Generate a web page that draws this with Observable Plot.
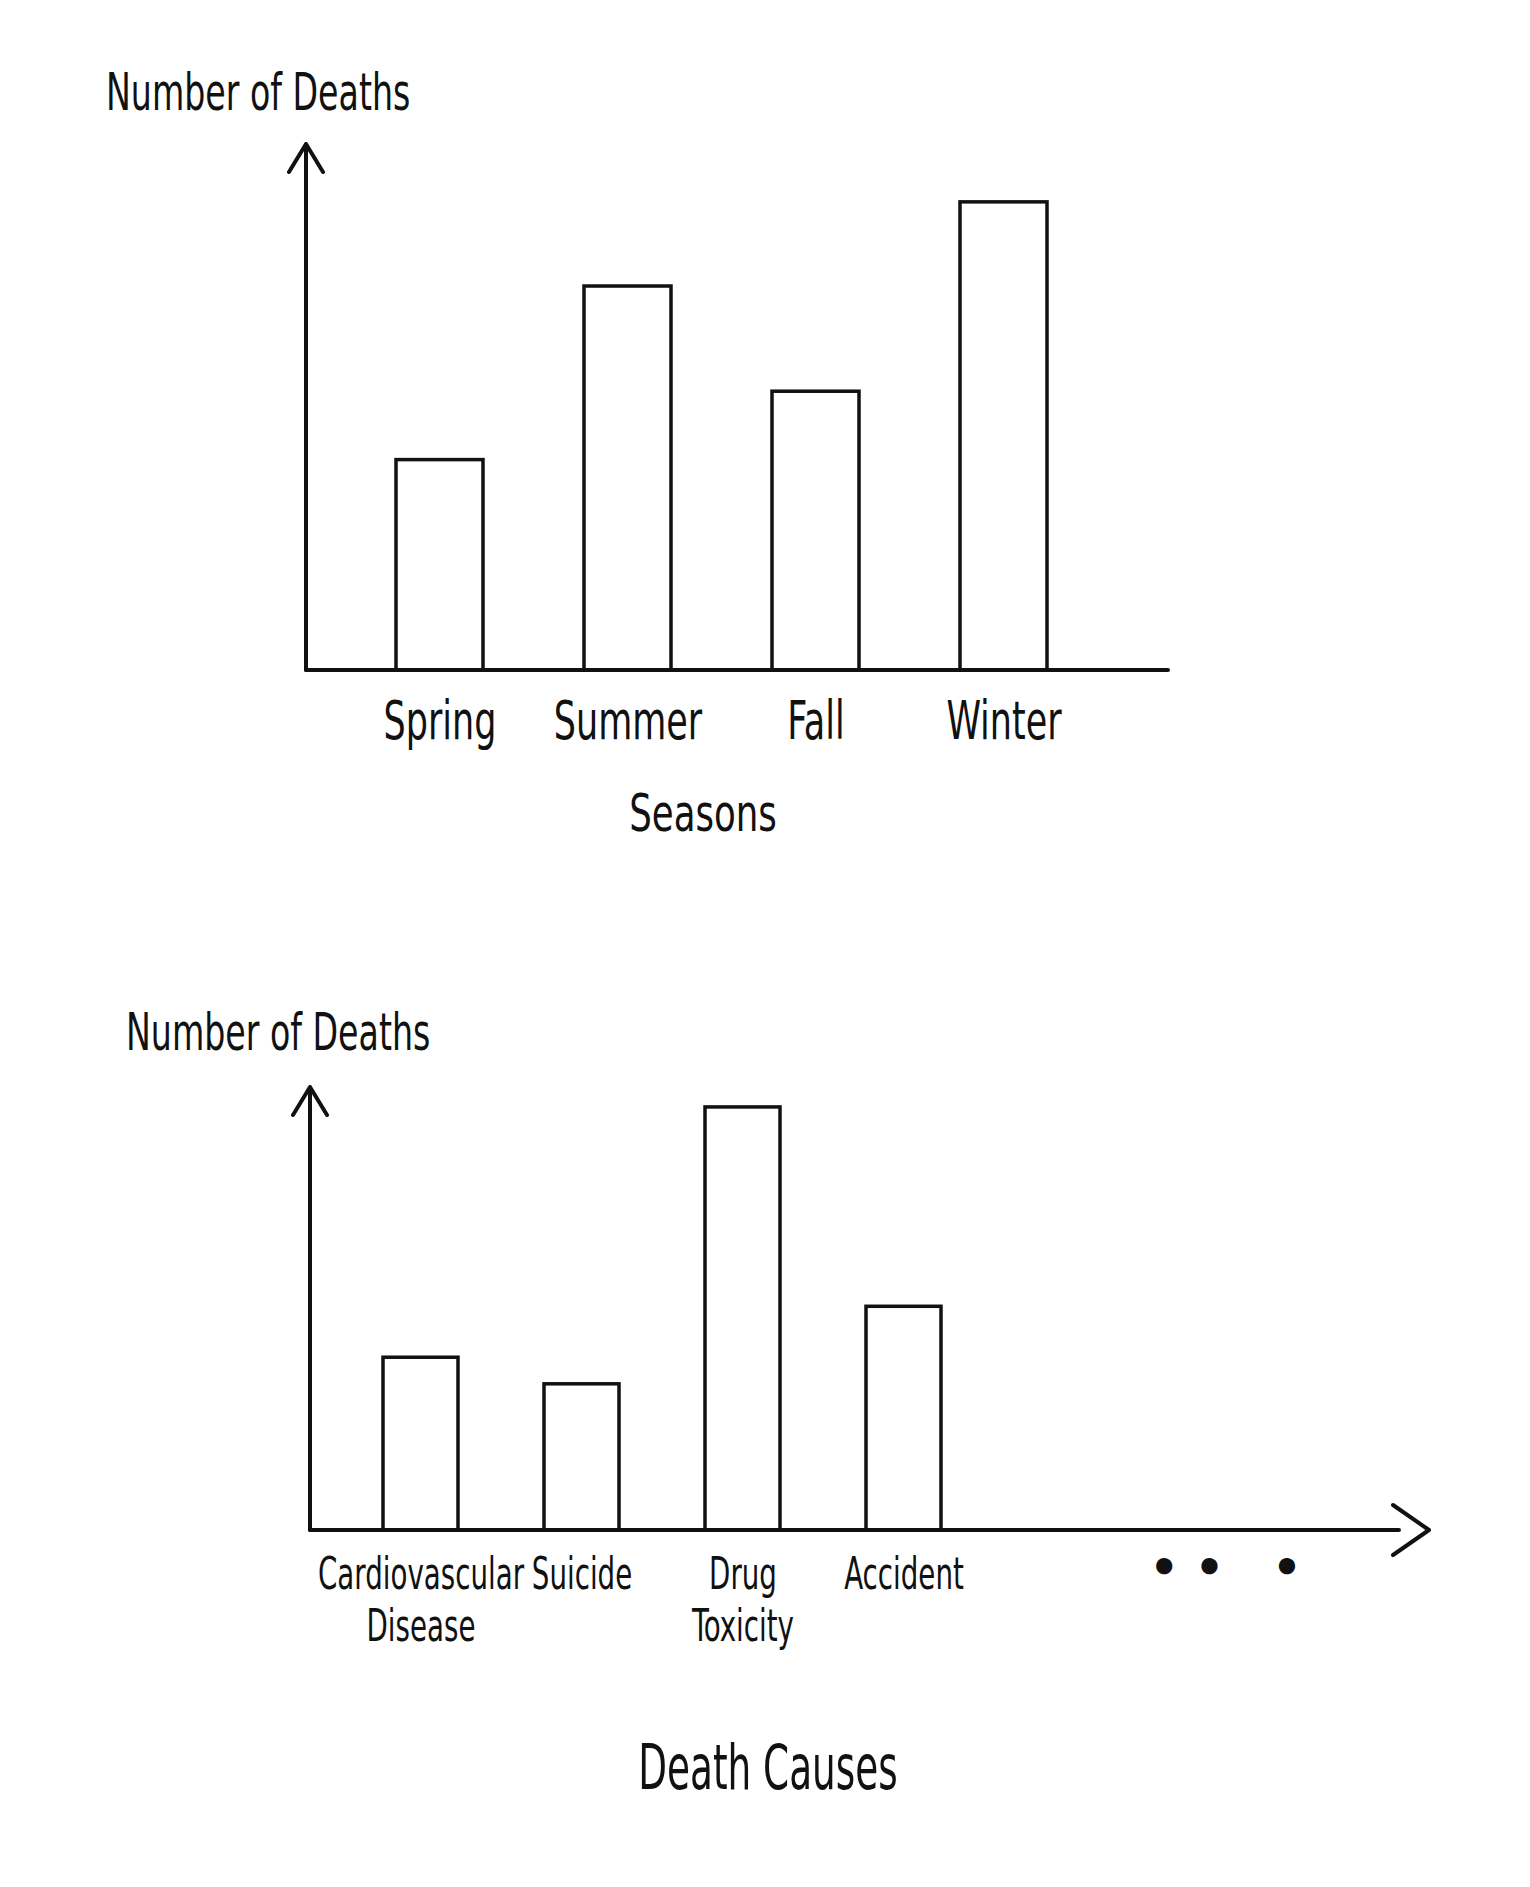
<!DOCTYPE html>
<html>
<head>
<meta charset="utf-8">
<script src="https://cdn.jsdelivr.net/npm/d3@7"></script>
<script src="https://cdn.jsdelivr.net/npm/@observablehq/plot@0.6"></script>
<style>
  html, body { margin: 0; padding: 0; background: #fff; }
  #page { position: relative; width: 1530px; height: 1887px; background: #fff; overflow: hidden; }
  .lbl { position: absolute; white-space: nowrap; color: #111; line-height: 1;
         font-family: 'DejaVu Sans Condensed', 'DejaVu Sans', sans-serif; }
  .chart { position: absolute; left: 0; }
</style>
</head>
<body>
<div id="page">
  <div class="lbl" style="left:106px; top:66px; font-size:52px; transform-origin:0 50%; transform:scaleX(0.71);">Number of Deaths</div>
  <div class="lbl" style="left:703px; top:787px; font-size:52px; transform:translateX(-50%) scaleX(0.76);">Seasons</div>
  <div class="lbl" style="left:126px; top:1006px; font-size:52px; transform-origin:0 50%; transform:scaleX(0.71);">Number of Deaths</div>
  <div class="lbl" style="left:768px; top:1737px; font-size:62px; transform:translateX(-50%) scaleX(0.67);">Death Causes</div>
  <div id="c1" class="chart" style="top:0px;"></div>
  <div id="c2" class="chart" style="top:900px;"></div>
</div>
<script>
// ---- Data (no y-axis ticks, arbitrary units) ----
const seasons = ["Spring", "Summer", "Fall", "Winter"];
const seasonDeaths = [40, 73, 53, 89];

const causes = ["Cardiovascular Disease", "Suicide", "Drug Toxicity", "Accident"];
const causeDeaths = [39, 33, 95.5, 50.5];
const causeTickLabels = ["Cardiovascular\nDisease", "Suicide", "Drug\nToxicity", "Accident"];
const moreCauses = "\u2022 \u2022   \u2022";

const FONT = "'DejaVu Sans Condensed', 'DejaVu Sans', sans-serif";
const INK = "#111";

// hand-drawn style axes with arrowheads, computed from Plot's frame dimensions
function sketchAxes(arrowX) {
  return (index, scales, values, dims) => {
    const x0 = dims.marginLeft, y0 = dims.height - dims.marginBottom;
    const x1 = dims.width - dims.marginRight, y1 = dims.marginTop;
    const g = d3.create("svg:g")
      .attr("fill", "none").attr("stroke", INK).attr("stroke-width", 4)
      .attr("stroke-linecap", "round").attr("stroke-linejoin", "round");
    g.append("path").attr("d",
      `M${x0},${y0}L${x0},${y1}M${x0 - 17},${y1 + 28}L${x0},${y1}L${x0 + 17},${y1 + 28}`);
    g.append("path").attr("d",
      arrowX
        ? `M${x0},${y0}L${x1 - 30},${y0}M${x1 - 36},${y0 - 25}L${x1},${y0}L${x1 - 36},${y0 + 25}`
        : `M${x0},${y0}L${x1},${y0}`);
    return g.node();
  };
}

// narrow the tick labels horizontally, like the hand lettering
function condenseTicks(svg, sx) {
  svg.querySelectorAll('g[aria-label="x-axis tick label"] text').forEach(t => {
    const tr = t.getAttribute("transform") || "";
    t.setAttribute("transform", `${tr} scale(${sx},1)`);
  });
}

// ---- Chart 1: deaths by season ----
const seasonData = seasons.map((s, i) => ({season: s, deaths: seasonDeaths[i]}));
const chart1 = Plot.plot({
  width: 1530,
  height: 860,
  marginLeft: 306,
  marginRight: 362,
  marginTop: 144,
  marginBottom: 190,
  style: {background: "transparent", fontFamily: FONT, color: INK},
  x: {domain: seasons, range: [395, 1049], paddingInner: 0.536, paddingOuter: 0},
  y: {domain: [0, 100], axis: null},
  marks: [
    Plot.barY(seasonData, {x: "season", y: "deaths", fill: "white", stroke: INK, strokeWidth: 3.5}),
    Plot.axisX({tickSize: 0, tickPadding: 30, fontSize: 54, fontFamily: FONT, fill: INK, label: null}),
    sketchAxes(false)
  ]
});
condenseTicks(chart1, 0.72);
document.getElementById("c1").appendChild(chart1);

// ---- Chart 2: deaths by cause ----
const causeData = causes.map((c, i) => ({cause: c, deaths: causeDeaths[i]}));
const tickMap = new Map(causes.map((c, i) => [c, causeTickLabels[i]]));
const chart2 = Plot.plot({
  width: 1530,
  height: 987,
  marginLeft: 310,
  marginRight: 101,
  marginTop: 187,
  marginBottom: 357,
  style: {background: "transparent", fontFamily: FONT, color: INK},
  x: {domain: causes, range: [381, 942], paddingInner: 0.537, paddingOuter: 0},
  y: {domain: [0, 100], axis: null},
  marks: [
    Plot.barY(causeData, {x: "cause", y: "deaths", fill: "white", stroke: INK, strokeWidth: 3.5}),
    Plot.axisX({tickSize: 0, tickPadding: 22, fontSize: 44, lineHeight: 1.18, fontFamily: FONT, fill: INK,
                label: null, tickFormat: d => tickMap.get(d)}),
    Plot.text([moreCauses], {text: d => d, frameAnchor: "bottom-right", textAnchor: "middle", dx: -204, dy: 52,
                             fontSize: 46, fontWeight: "bold", fill: INK, fontFamily: "'DejaVu Sans', sans-serif"}),
    sketchAxes(true)
  ]
});
condenseTicks(chart2, 0.7);
document.getElementById("c2").appendChild(chart2);
</script>
</body>
</html>
